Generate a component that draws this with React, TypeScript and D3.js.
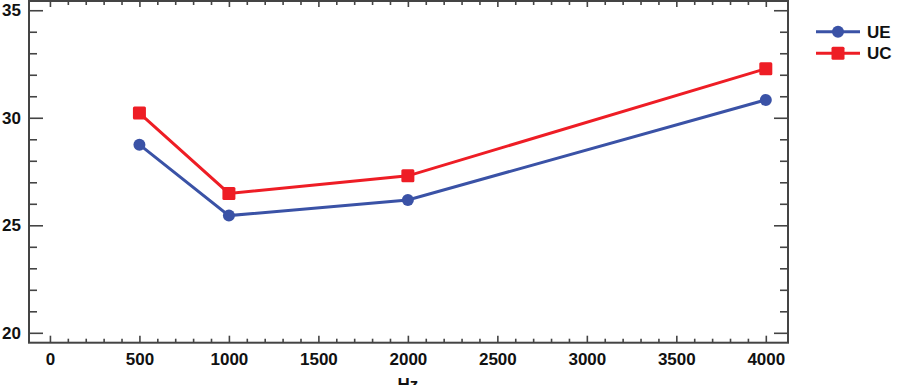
import React, { useEffect, useRef } from 'react';
import * as d3 from 'd3';

// frequencies (Hz) and the two measured series
const freqs = [500, 1000, 2000, 4000];
const ueValues = [28.75, 25.45, 26.18, 30.83];
const ucValues = [30.22, 26.48, 27.3, 32.28];
const seriesNames = ['UE', 'UC'];

const xMajor = [0, 500, 1000, 1500, 2000, 2500, 3000, 3500, 4000];
const yMajor = [20, 25, 30, 35];

const BLUE = '#3a52a6';
const RED = '#ee1d25';
const AXIS = '#444';
const FONT = '"Liberation Sans", Arial, sans-serif';

const App = () => {
  const svgRef = useRef(null);

  useEffect(() => {
    const svg = d3.select(svgRef.current);
    svg.selectAll('*').remove();

    const left = 29, right = 788, top = 1, bottom = 342.7;
    const x = d3.scaleLinear().domain([-117, 4124]).range([left, right]);
    const y = d3.scaleLinear().domain([19.54, 35.43]).range([bottom, top]);

    const xMinor = d3.range(0, 4001, 100).filter(v => v % 500 !== 0);
    const yMinor = d3.range(20, 35.01, 1).filter(v => v % 5 !== 0);

    // frame
    svg.append('rect')
      .attr('x', left).attr('y', top)
      .attr('width', right - left).attr('height', bottom - top)
      .attr('fill', 'none').attr('stroke', AXIS).attr('stroke-width', 2);

    const styleAxis = g => {
      g.select('.domain').remove();
      g.selectAll('line').attr('stroke', AXIS).attr('stroke-width', 1.6);
      g.selectAll('text')
        .attr('fill', '#111')
        .style('font-family', FONT)
        .style('font-size', '17px')
        .style('font-weight', 'bold');
    };

    // bottom
    svg.append('g').attr('transform', `translate(0,${bottom})`)
      .call(d3.axisBottom(x).tickValues(xMajor).tickSize(-7).tickPadding(10).tickFormat(d3.format('d')))
      .call(styleAxis);
    svg.append('g').attr('transform', `translate(0,${bottom})`)
      .call(d3.axisBottom(x).tickValues(xMinor).tickSize(-4).tickFormat(() => ''))
      .call(styleAxis);
    // top
    svg.append('g').attr('transform', `translate(0,${top})`)
      .call(d3.axisTop(x).tickValues(xMajor).tickSize(-6).tickFormat(() => ''))
      .call(styleAxis);
    svg.append('g').attr('transform', `translate(0,${top})`)
      .call(d3.axisTop(x).tickValues(xMinor).tickSize(-4).tickFormat(() => ''))
      .call(styleAxis);
    // left
    svg.append('g').attr('transform', `translate(${left},0)`)
      .call(d3.axisLeft(y).tickValues(yMajor).tickSize(-14).tickPadding(8).tickFormat(d3.format('d')))
      .call(styleAxis);
    svg.append('g').attr('transform', `translate(${left},0)`)
      .call(d3.axisLeft(y).tickValues(yMinor).tickSize(-8).tickFormat(() => ''))
      .call(styleAxis);
    // right
    svg.append('g').attr('transform', `translate(${right},0)`)
      .call(d3.axisRight(y).tickValues(yMajor).tickSize(-14).tickFormat(() => ''))
      .call(styleAxis);
    svg.append('g').attr('transform', `translate(${right},0)`)
      .call(d3.axisRight(y).tickValues(yMinor).tickSize(-8).tickFormat(() => ''))
      .call(styleAxis);

    // x title
    svg.append('text')
      .attr('x', x(2000)).attr('y', 390)
      .attr('text-anchor', 'middle')
      .attr('fill', '#111')
      .style('font-family', FONT).style('font-size', '17px').style('font-weight', 'bold')
      .text('Hz');

    const line = d3.line().x(d => x(d[0])).y(d => y(d[1]));
    const ue = freqs.map((f, i) => [f, ueValues[i]]);
    const uc = freqs.map((f, i) => [f, ucValues[i]]);

    svg.append('path').datum(ue)
      .attr('d', line).attr('fill', 'none').attr('stroke', BLUE).attr('stroke-width', 3);
    svg.append('path').datum(uc)
      .attr('d', line).attr('fill', 'none').attr('stroke', RED).attr('stroke-width', 3);

    svg.append('g').selectAll('circle').data(ue).join('circle')
      .attr('cx', d => x(d[0])).attr('cy', d => y(d[1])).attr('r', 6)
      .attr('fill', BLUE);
    const sq = 13;
    svg.append('g').selectAll('rect').data(uc).join('rect')
      .attr('x', d => x(d[0]) - sq / 2).attr('y', d => y(d[1]) - sq / 2)
      .attr('width', sq).attr('height', sq).attr('rx', 1.5)
      .attr('fill', RED);

    // legend
    const legend = svg.append('g');
    const legendRows = [
      { name: seriesNames[0], color: BLUE, marker: 'circle', cy: 31.7 },
      { name: seriesNames[1], color: RED, marker: 'square', cy: 53.3 },
    ];
    legendRows.forEach(r => {
      legend.append('line')
        .attr('x1', 816).attr('x2', 860).attr('y1', r.cy).attr('y2', r.cy)
        .attr('stroke', r.color).attr('stroke-width', 3);
      if (r.marker === 'circle') {
        legend.append('circle').attr('cx', 838).attr('cy', r.cy).attr('r', 6).attr('fill', r.color);
      } else {
        legend.append('rect').attr('x', 838 - sq / 2).attr('y', r.cy - sq / 2)
          .attr('width', sq).attr('height', sq).attr('rx', 1.5).attr('fill', r.color);
      }
      legend.append('text')
        .attr('x', 867).attr('y', r.cy + 6)
        .attr('fill', '#111')
        .style('font-family', FONT).style('font-size', '17px').style('font-weight', 'bold')
        .text(r.name);
    });
  }, []);

  return (
    <svg
      ref={svgRef}
      width={900}
      height={385}
      style={{ position: 'absolute', left: 0, top: 0, background: '#fff' }}
    />
  );
};

export default App;
